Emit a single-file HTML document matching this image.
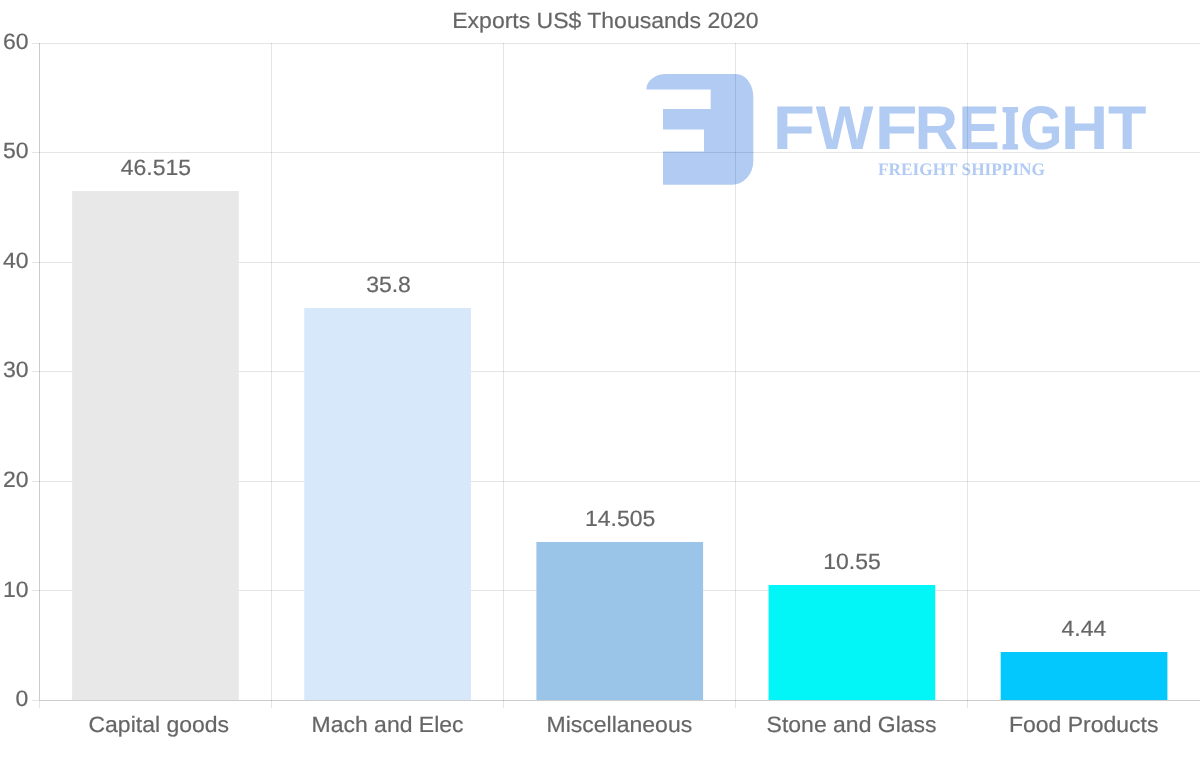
<!DOCTYPE html>
<html lang="en"><head><meta charset="utf-8"><title>Exports US$ Thousands 2020</title>
<style>html,body{margin:0;padding:0;background:#fff}body{width:1200px;height:763px;overflow:hidden}svg{display:block}text{font-family:"Liberation Sans",Arial,Helvetica,sans-serif;fill:#666;stroke:#666;stroke-width:.2px;text-rendering:geometricPrecision}.lg text{stroke:none}.lg text{fill:#b2cbf3}.lg .sf{font-family:"Liberation Serif","Times New Roman",serif;font-weight:bold}</style>
</head><body>
<svg width="1200" height="763" viewBox="0 0 1200 763">
<rect width="1200" height="763" fill="#fff"/>
<g class="lg" fill="#b2cbf3">
<path d="M646.3 89.5 A20 15.6 0 0 1 666.3 73.9 L736 73.9 A17.3 23 0 0 1 753.3 96.9 L753.3 161.2 A21.3 23.5 0 0 1 732 184.7 L663 184.7 L663 151.4 L704 151.4 L704 129.4 L663 129.4 L663 109 L710.7 109 L710.7 89.5 Z"/>
<text font-size="61.77" font-weight="bold"><tspan x="772.88" y="149.35" textLength="42.14" lengthAdjust="spacingAndGlyphs">F</tspan><tspan x="815.74" y="149.35" textLength="57.62" lengthAdjust="spacingAndGlyphs">W</tspan><tspan x="874.82" y="149.35" textLength="42.74" lengthAdjust="spacingAndGlyphs">F</tspan><tspan x="914.81" y="149.35" textLength="43.12" lengthAdjust="spacingAndGlyphs">R</tspan><tspan x="958.33" y="149.35" textLength="41.61" lengthAdjust="spacingAndGlyphs">E</tspan><tspan class="sf" x="1002.34" y="147.84" font-size="60.29" textLength="16.22" lengthAdjust="spacingAndGlyphs" stroke="#b2cbf3" stroke-width="3.02" stroke-linejoin="miter">I</tspan><tspan x="1019.75" y="149.35" textLength="42.65" lengthAdjust="spacingAndGlyphs">G</tspan><tspan x="1060.93" y="149.35" textLength="47.17" lengthAdjust="spacingAndGlyphs">H</tspan><tspan x="1108.09" y="149.35" textLength="38.38" lengthAdjust="spacingAndGlyphs">T</tspan></text>
<text class="sf" x="878" y="174.5" font-size="17.6" textLength="167" lengthAdjust="spacingAndGlyphs">FREIGHT SHIPPING</text>
</g>
<text transform="translate(452.28 27.80) scale(1.0360 1)" font-size="22.2">Exports US$ Thousands 2020</text>
<g stroke="#000" stroke-opacity="0.1" stroke-width="1" shape-rendering="crispEdges">
<line x1="32" x2="1200" y1="590.5" y2="590.5"/>
<line x1="32" x2="1200" y1="481.5" y2="481.5"/>
<line x1="32" x2="1200" y1="371.5" y2="371.5"/>
<line x1="32" x2="1200" y1="262.5" y2="262.5"/>
<line x1="32" x2="1200" y1="152.5" y2="152.5"/>
<line x1="32" x2="1200" y1="43.5" y2="43.5"/>
<line x1="271.5" x2="271.5" y1="43" y2="708"/>
<line x1="503.5" x2="503.5" y1="43" y2="708"/>
<line x1="735.5" x2="735.5" y1="43" y2="708"/>
<line x1="967.5" x2="967.5" y1="43" y2="708"/>
<line x1="32" x2="39" y1="700.5" y2="700.5"/>
<line x1="39.5" x2="39.5" y1="701" y2="708"/>
</g>
<g stroke="#000" stroke-opacity="0.2" stroke-width="1" shape-rendering="crispEdges">
<line x1="39.5" x2="39.5" y1="43" y2="700"/>
<line x1="39" x2="1200" y1="700.5" y2="700.5"/>
</g>
<text transform="translate(15.62 706.15) scale(1.0360 1)" font-size="22.2">0</text>
<text transform="translate(2.94 596.56) scale(1.0360 1)" font-size="22.2">10</text>
<text transform="translate(2.94 486.97) scale(1.0360 1)" font-size="22.2">20</text>
<text transform="translate(2.94 377.38) scale(1.0360 1)" font-size="22.2">30</text>
<text transform="translate(2.94 267.79) scale(1.0360 1)" font-size="22.2">40</text>
<text transform="translate(2.94 158.20) scale(1.0360 1)" font-size="22.2">50</text>
<text transform="translate(2.94 48.61) scale(1.0360 1)" font-size="22.2">60</text>
<rect x="72.10" y="191.0" width="166.7" height="509.0" fill="#e8e8e8"/>
<text transform="translate(120.76 174.70) scale(1.0360 1)" font-size="22.2">46.515</text>
<text transform="translate(88.49 731.70) scale(1.0360 1)" font-size="22.2">Capital goods</text>
<rect x="304.25" y="308.0" width="166.7" height="392.0" fill="#d7e8fa"/>
<text transform="translate(366.14 291.70) scale(1.0360 1)" font-size="22.2">35.8</text>
<text transform="translate(311.53 731.70) scale(1.0360 1)" font-size="22.2">Mach and Elec</text>
<rect x="536.40" y="542.0" width="166.7" height="158.0" fill="#9ac5e8"/>
<text transform="translate(584.96 525.70) scale(1.0360 1)" font-size="22.2">14.505</text>
<text transform="translate(546.53 731.70) scale(1.0360 1)" font-size="22.2">Miscellaneous</text>
<rect x="768.55" y="585.0" width="166.7" height="115.0" fill="#02f5f7"/>
<text transform="translate(823.20 568.70) scale(1.0360 1)" font-size="22.2">10.55</text>
<text transform="translate(766.62 731.70) scale(1.0360 1)" font-size="22.2">Stone and Glass</text>
<rect x="1000.70" y="652.0" width="166.7" height="48.0" fill="#02c8fd"/>
<text transform="translate(1061.50 635.70) scale(1.0360 1)" font-size="22.2">4.44</text>
<text transform="translate(1008.88 731.70) scale(1.0360 1)" font-size="22.2">Food Products</text>
</svg>
</body></html>
